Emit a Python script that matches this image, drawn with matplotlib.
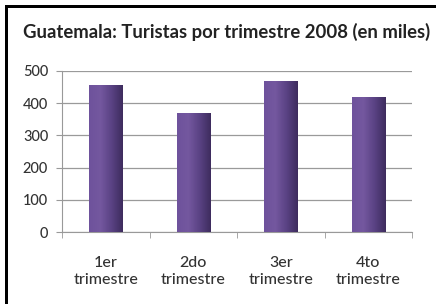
import matplotlib

matplotlib.use("Agg")
import matplotlib.pyplot as plt
import numpy as np
from matplotlib.patches import Rectangle

categories = ["1er\ntrimestre", "2do\ntrimestre", "3er\ntrimestre", "4to\ntrimestre"]
turistas = [458, 370, 469, 420]
yticks = [0, 100, 200, 300, 400, 500]
title = "Guatemala: Turistas por trimestre 2008 (en miles)"

W, H = 437, 304
fig = plt.figure(figsize=(W / 100, H / 100), dpi=100)
plt.rcParams["font.family"] = ["Lato", "DejaVu Sans"]

# black frame (left, top only)
for x0, y0, w, h in [(5, 0, 2.7, H - 5), (5, H - 7.7, W - 6, 2.7)]:
    fig.patches.append(Rectangle((x0 / W, y0 / H), w / W, h / H, transform=fig.transFigure,
                                 facecolor="black", edgecolor="none"))

ax = fig.add_axes([62 / W, 1 - 232 / H, (412 - 62) / W, (232 - 71) / H])
x = np.arange(len(categories))
bars = ax.bar(x, turistas, width=0.38, color="#664c93", zorder=3)

# horizontal shading like the original bars
grad = np.linspace(0, 1, 64).reshape(1, -1)
cmap = matplotlib.colors.LinearSegmentedColormap.from_list("p", ["#6e529c", "#74589f", "#5a4284", "#3e2c5e"])
for b in bars:
    im = ax.imshow(grad, extent=[b.get_x(), b.get_x() + b.get_width(), 0, b.get_height()],
                   aspect="auto", cmap=cmap, zorder=4)
    im.set_clip_path(b)

ax.set_xlim(-0.5, len(categories) - 0.5)
ax.set_ylim(0, 500)
ax.set_yticks(yticks)
ax.set_xticks(x)
ax.set_xticklabels(categories, fontsize=11.5, color="#333333", linespacing=1.35)
ax.tick_params(axis="x", length=0, pad=17)
ax.set_xticks(np.arange(len(categories) + 1) - 0.5, minor=True)
ax.tick_params(axis="x", which="minor", length=4, color="#999999", direction="out")
ax.tick_params(axis="y", labelsize=10.5, labelcolor="#333333", length=4, color="#999999", pad=6)
for lbl in ax.get_xticklabels() + ax.get_yticklabels():
    lbl.set_fontweight("medium")
ax.grid(axis="y", color="#9a9a9a", linewidth=0.9, zorder=0)
for s in ["top", "right"]:
    ax.spines[s].set_visible(False)
for s in ["left", "bottom"]:
    ax.spines[s].set_color("#999999")

fig.text(23 / W, 1 - 32 / H, title, fontsize=13.3, fontweight="bold", color="#222222", va="center")

fig.savefig("out.png", dpi=100)
